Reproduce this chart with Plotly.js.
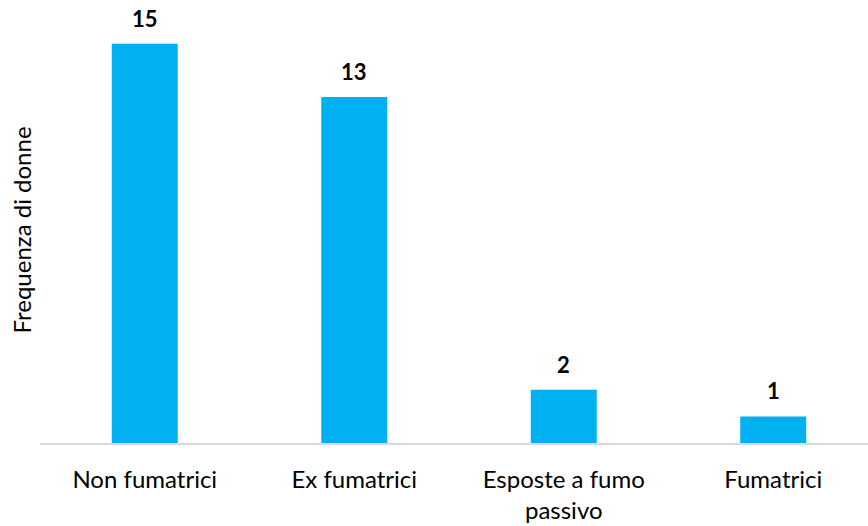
<!DOCTYPE html>
<html>
<head>
<meta charset="utf-8">
<script src="https://cdn.plot.ly/plotly-3.0.1.min.js"></script>
<style>
html,body{margin:0;padding:0;overflow:hidden;background:#fff;}
#chart{width:878px;height:526px;}
</style>
</head>
<body>
<div id="chart"></div>
<script>
const categories = ["Non fumatrici", "Ex fumatrici", "Esposte a fumo<br>passivo", "Fumatrici"];
const values = [15, 13, 2, 1];
const yTitle = "Frequenza di donne";

const trace = {
  type: "bar",
  x: categories,
  y: values,
  marker: {color: "#00B0F0"},
  hoverinfo: "x+y"
};

const annotations = categories.map((c, i) => ({
  x: c,
  y: values[i],
  xref: "x",
  yref: "y",
  text: "<b>" + values[i] + "</b>",
  showarrow: false,
  yanchor: "bottom",
  yshift: 10,
  font: {family: "Lato", size: 22, color: "#000000"}
}));

const layout = {
  width: 878,
  height: 526,
  margin: {l: 40, r: 0, t: 17, b: 83},
  paper_bgcolor: "#ffffff",
  plot_bgcolor: "#ffffff",
  bargap: 0.685,
  showlegend: false,
  font: {family: "Lato", size: 24, color: "#000000"},
  xaxis: {
    type: "category",
    showline: true,
    linecolor: "#d9d9d9",
    linewidth: 2,
    ticks: "",
    showgrid: false,
    zeroline: false,
    ticklabelstandoff: 14,
    tickfont: {family: "Lato", size: 24, color: "#000000"},
    automargin: false
  },
  yaxis: {
    range: [0, 16],
    showgrid: false,
    zeroline: false,
    showline: false,
    showticklabels: false,
    ticks: "",
    automargin: false,
    title: {text: yTitle, standoff: 0, font: {family: "Lato", size: 24, color: "#000000"}}
  },
  annotations: annotations
};

Plotly.newPlot("chart", [trace], layout, {displayModeBar: false, staticPlot: true});
</script>
</body>
</html>
